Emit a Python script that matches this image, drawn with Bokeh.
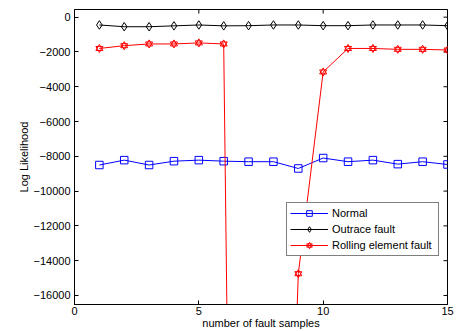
import math
from bokeh.plotting import figure
from bokeh.models import FixedTicker, Range1d, Legend, LegendItem
from bokeh.embed import file_html
from bokeh.resources import INLINE

samples = list(range(1, 16))
normal = [-8500, -8220, -8500, -8280, -8220, -8280, -8310, -8310, -8700, -8100,
          -8310, -8220, -8450, -8310, -8470]
outrace = [-450, -550, -550, -500, -450, -500, -490, -450, -450, -490,
           -490, -450, -450, -450, -490]
rolling = [-1800, -1640, -1540, -1540, -1480, -1540, -120000, -57000, -14750, -3150,
           -1800, -1800, -1850, -1850, -1890]
x_ticks = [0, 5, 10, 15]
y_ticks = [-16000, -14000, -12000, -10000, -8000, -6000, -4000, -2000, 0]

FONT = "Liberation Sans"
FS = "11px"

x0, x1 = 0, 15
y0, y1 = -16520, 440

p = figure(width=459, height=331, output_backend="svg", toolbar_location=None,
           x_range=Range1d(x0, x1), y_range=Range1d(y0, y1),
           min_border_left=74, min_border_right=12, min_border_top=9, min_border_bottom=27,
           background_fill_color="white", border_fill_color="white")
p.xgrid.visible = False
p.ygrid.visible = False
p.outline_line_color = "black"
p.outline_line_width = 1


def style(ax, ticks, standoff):
    ax.ticker = FixedTicker(ticks=ticks)
    ax.axis_line_color = "black"
    ax.axis_line_width = 1
    ax.major_tick_line_color = "black"
    ax.major_tick_in = 4
    ax.major_tick_out = 0
    ax.minor_tick_line_color = None
    ax.major_label_text_font = FONT
    ax.major_label_text_color = "black"
    ax.major_label_text_font_size = FS
    ax.major_label_standoff = standoff
    ax.axis_label_text_font = FONT
    ax.axis_label_text_font_size = FS
    ax.axis_label_text_font_style = "normal"
    ax.axis_label_text_color = "black"


style(p.xaxis[0], x_ticks, 2)
style(p.yaxis[0], y_ticks, 4)
p.yaxis[0].axis_label = "Log Likelihood"
p.yaxis[0].axis_label_standoff = 0
p.xaxis[0].axis_label = "number of fault samples"
p.xaxis[0].axis_label_standoff = -1

# inner tick marks on the top and right edges (half of each dash is clipped by the frame)
p.scatter(x_ticks, [y1] * len(x_ticks), marker="dash", angle=math.pi / 2, size=8,
          line_color="black", line_width=1)
p.scatter([x1] * len(y_ticks), y_ticks, marker="dash", size=8,
          line_color="black", line_width=1)

# Normal
ln = p.line(samples, normal, line_color="#0000FF", line_width=1)
mn = p.scatter(samples, normal, marker="square", size=7.5, line_color="#0000FF",
               fill_color=None, line_width=1)
# Outrace
lo = p.line(samples, outrace, line_color="black", line_width=1)
mo = p.scatter(samples, outrace, marker="diamond", size=8.5, line_color="black",
               fill_color=None, line_width=1)
# Rolling element
lr = p.line(samples, rolling, line_color="#FF0000", line_width=1)
mr1 = p.scatter(samples, rolling, marker="triangle", size=7, line_color="#FF0000",
                fill_color=None, line_width=1)
mr2 = p.scatter(samples, rolling, marker="inverted_triangle", size=7, line_color="#FF0000",
                fill_color=None, line_width=1)

legend = Legend(items=[
    LegendItem(label="Normal", renderers=[ln, mn]),
    LegendItem(label="Outrace fault", renderers=[lo, mo]),
    LegendItem(label="Rolling element fault", renderers=[lr, mr1, mr2]),
], location=(212, 48))
legend.border_line_color = "black"
legend.border_line_width = 1
legend.background_fill_color = "white"
legend.background_fill_alpha = 1
legend.label_text_font = FONT
legend.label_text_font_size = FS
legend.label_text_color = "black"
legend.padding = 3
legend.spacing = 2
legend.margin = 0
legend.glyph_height = 14
legend.label_height = 14
legend.glyph_width = 38
legend.label_standoff = 4
legend.label_width = 103
p.add_layout(legend)

open("out.html", "w").write(file_html(p, INLINE))
